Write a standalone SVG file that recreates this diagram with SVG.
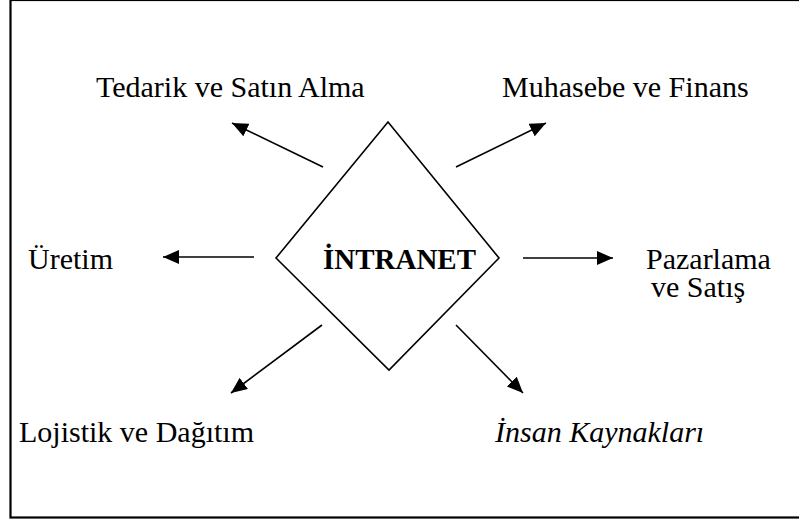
<svg xmlns="http://www.w3.org/2000/svg" width="799" height="523" viewBox="0 0 799 523">
<defs>
<style>
text{font-family:'Liberation Serif','Times New Roman',Times,serif;font-size:30px;fill:#000}
.c{stroke:#000;stroke-width:1.6;fill:none}
</style>
<marker id="ah" markerUnits="userSpaceOnUse" markerWidth="18" markerHeight="14" refX="16" refY="7" orient="auto">
<path d="M0,0 L16,7 L0,14 Z" fill="#000"/>
</marker>
</defs>
<rect x="0" y="0" width="799" height="523" fill="#fff"/>
<rect x="10.5" y="0" width="800" height="517.5" fill="none" stroke="#000" stroke-width="2.2"/>
<g id="intranet">
<polygon points="388,122 499,258 389,370 276,258" fill="none" stroke="#000" stroke-width="1.6"/>
<text x="323" y="269" font-weight="bold" textLength="153" lengthAdjust="spacingAndGlyphs">İNTRANET</text>
</g>
<g id="tedarik"><text x="96" y="97">Tedarik ve Satın Alma</text></g>
<g id="muhasebe"><text x="502" y="97">Muhasebe ve Finans</text></g>
<g id="uretim"><text x="28" y="269">Üretim</text></g>
<g id="pazarlama"><text x="646" y="269">Pazarlama</text><text x="651" y="297">ve Satış</text></g>
<g id="lojistik"><text x="19" y="442">Lojistik ve Dağıtım</text></g>
<g id="insan"><text x="495" y="442" font-style="italic">İnsan Kaynakları</text></g>
<g id="connectors">
<line class="c" x1="323" y1="167" x2="232" y2="123" marker-end="url(#ah)"/>
<line class="c" x1="456" y1="167" x2="546" y2="123" marker-end="url(#ah)"/>
<line class="c" x1="254" y1="257" x2="163" y2="257" marker-end="url(#ah)"/>
<line class="c" x1="523" y1="258" x2="613" y2="258" marker-end="url(#ah)"/>
<line class="c" x1="322" y1="325" x2="231" y2="393" marker-end="url(#ah)"/>
<line class="c" x1="456" y1="325" x2="523" y2="393" marker-end="url(#ah)"/>
</g>
</svg>
